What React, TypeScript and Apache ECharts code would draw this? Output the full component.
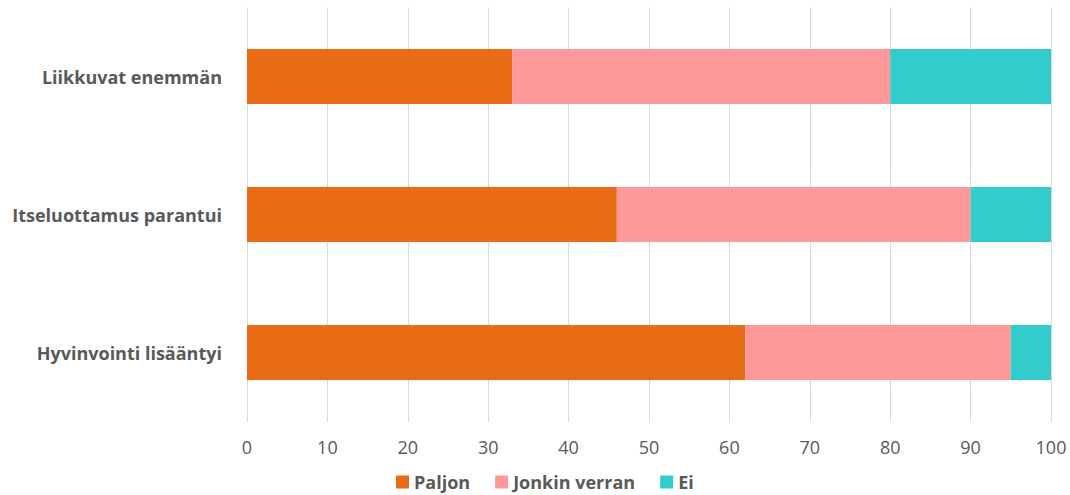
import React, { useEffect, useRef } from "react";
import * as echarts from "echarts";

const categories = ["Hyvinvointi lisääntyi", "Itseluottamus parantui", "Liikkuvat enemmän"];
const paljon = [62, 46, 33];
const jonkinVerran = [33, 44, 47];
const ei = [5, 10, 20];
const seriesNames = ["Paljon", "Jonkin verran", "Ei"];
const colors = ["#E96C17", "#FF9999", "#33CCCC"];

export default function App() {
  const ref = useRef<HTMLDivElement>(null);
  useEffect(() => {
    document.body.style.margin = "0";
    const chart = echarts.init(ref.current!, null, { renderer: "svg" });
    const font = "'Open Sans', sans-serif";
    const data = [paljon, jonkinVerran, ei];
    chart.setOption({
      animation: false,
      textStyle: { fontFamily: font },
      grid: { left: 247, right: 19, top: 7.5, bottom: 73.5 },
      legend: {
        top: 473,
        left: 396,
        padding: 0,
        itemWidth: 13,
        itemHeight: 13,
        itemGap: 25,
        icon: "rect",
        textStyle: { fontSize: 18, fontWeight: "bold", color: "#595959", fontFamily: font },
        data: seriesNames,
      },
      xAxis: {
        type: "value",
        min: 0,
        max: 100,
        interval: 10,
        axisLine: { show: false },
        axisTick: { show: false },
        splitLine: { show: true, lineStyle: { color: "#D9D9D9", width: 1 } },
        axisLabel: { fontSize: 18, color: "#595959", margin: 16, fontFamily: font },
      },
      yAxis: {
        type: "category",
        data: categories,
        axisLine: { show: false },
        axisTick: { show: false },
        axisLabel: { fontSize: 18, fontWeight: "bold", color: "#595959", margin: 25, fontFamily: font },
      },
      series: seriesNames.map((name, i) => ({
        name,
        type: "bar",
        stack: "total",
        barCategoryGap: "60%",
        itemStyle: { color: colors[i] },
        data: data[i],
      })),
    });
    return () => chart.dispose();
  }, []);
  return <div ref={ref} style={{ width: 1070, height: 495 }} />;
}
